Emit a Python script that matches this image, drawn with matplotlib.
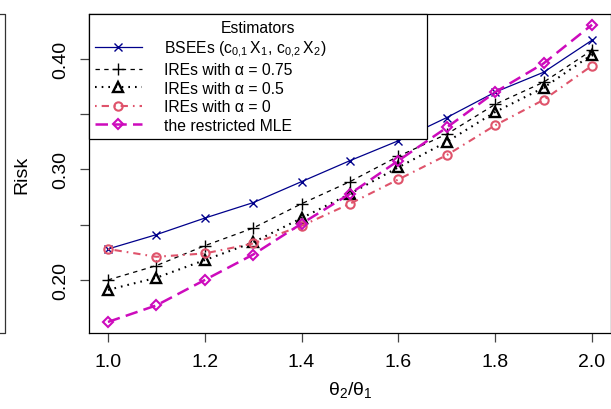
import matplotlib
matplotlib.use("Agg")
import matplotlib.pyplot as plt
from matplotlib.lines import Line2D
import numpy as np

plt.rcParams.update(
    {
        "font.family": ["Liberation Sans", "DejaVu Sans"],
        "mathtext.default": "regular",
        "font.size": 14,
        "axes.linewidth": 0.9,
    }
)

ratio = [1.0, 1.1, 1.2, 1.3, 1.4, 1.5, 1.6, 1.7, 1.8, 1.9, 2.0]
bsee = [0.228, 0.241, 0.256, 0.270, 0.289, 0.308, 0.326, 0.347, 0.370, 0.388, 0.417]
ire75 = [0.200, 0.213, 0.231, 0.247, 0.269, 0.289, 0.312, 0.332, 0.359, 0.379, 0.408]
ire50 = [0.191, 0.202, 0.218, 0.234, 0.256, 0.278, 0.302, 0.325, 0.352, 0.374, 0.404]
ire0 = [0.228, 0.221, 0.224, 0.233, 0.249, 0.269, 0.291, 0.313, 0.340, 0.363, 0.394]
mle = [0.162, 0.177, 0.200, 0.223, 0.251, 0.278, 0.308, 0.338, 0.370, 0.396, 0.431]

labels = [
    r"BSEEs ($c_{0{,}1}\,X_1{,}\ c_{0{,}2}\,X_2$)",
    "IREs with α = 0.75",
    "IREs with α = 0.5",
    "IREs with α = 0",
    "the restricted MLE",
]

fig = plt.figure(figsize=(6.11, 4.10), dpi=100)
ax = fig.add_axes([88.6 / 611, 1 - 334 / 410, 522.8 / 611, 319 / 410])

ax.plot(ratio, bsee, color="#00008B", lw=0.9, marker="x", ms=6, mew=1, label=labels[0])
ax.plot(ratio, ire75, color="black", lw=0.9, ls=(0, (3.5, 3.5)), marker="+", ms=8, mew=1,
        label=labels[1])
ax.plot(ratio, ire50, color="black", lw=1.5, ls=(0, (0.8, 2.4)), marker="^", ms=7, mew=1.7,
        mfc="none", label=labels[2])
ax.plot(ratio, ire0, color="#DF536B", lw=1.5, ls=(0, (0.8, 2.4, 3.5, 2.4)), marker="o", ms=6,
        mew=1.5, mfc="none", label=labels[3])
ax.plot(ratio, mle, color="#CD0BBC", lw=1.8, ls=(0, (5, 2.5)), marker="D", ms=5.5, mew=1.5,
        mfc="none", label=labels[4])

ax.set_xlim(0.96, 2.04)
ax.set_ylim(0.152, 0.4407)
ax.set_xticks(np.arange(1.0, 2.01, 0.2))
ax.set_xticklabels([f"{v:.1f}" for v in np.arange(1.0, 2.01, 0.2)])
ax.set_yticks([0.20, 0.25, 0.30, 0.35, 0.40])
ax.set_yticklabels(["0.20", "", "0.30", "", "0.40"])
ax.tick_params(axis="both", length=6.5, width=0.9, labelsize=14, color="#444444")
ax.tick_params(axis="x", pad=8)
ax.tick_params(axis="y", pad=7.5, labelrotation=90)
for t in ax.get_yticklabels():
    t.set_va("center")

ax.set_xlabel(r"$θ_2/θ_1$", fontsize=14)
ax.xaxis.set_label_coords(0.5, -0.145)
ax.set_ylabel("Risk", fontsize=14)
ax.yaxis.set_label_coords(-0.112, 0.5)

leg = ax.legend(
    loc="upper left",
    bbox_to_anchor=(0, 0, 0.647, 1),
    mode="expand",
    borderaxespad=0,
    title="Estimators",
    fontsize=11.3,
    title_fontsize=11.3,
    fancybox=False,
    framealpha=1,
    edgecolor="black",
    handlelength=3.0,
    handletextpad=1.4,
    labelspacing=0.22,
    borderpad=0.4,
)
leg.get_frame().set_linewidth(0.9)

# edge of the neighbouring panel on the left
fig.add_artist(Line2D([0, 5 / 611, 5 / 611, 0],
                      [1 - 15 / 410, 1 - 15 / 410, 1 - 334 / 410, 1 - 334 / 410],
                      transform=fig.transFigure, color="#333333", lw=0.9))

fig.savefig("out.png", dpi=100)
